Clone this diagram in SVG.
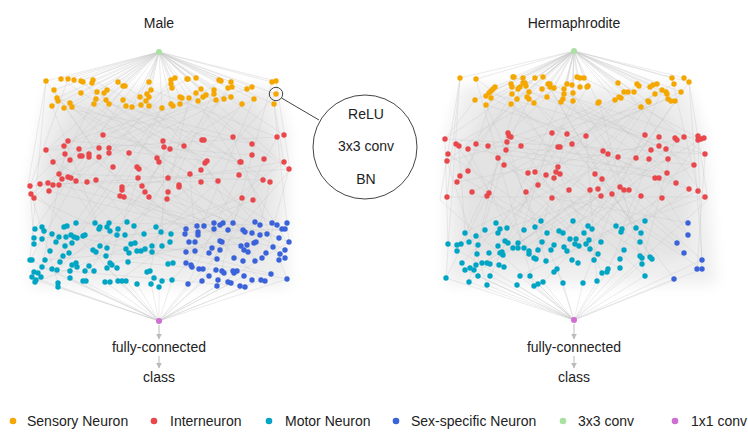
<svg xmlns="http://www.w3.org/2000/svg" width="748" height="433" viewBox="0 0 748 433">
<defs>
<style>
text{font-family:"Liberation Sans",Arial,sans-serif;font-size:14px;fill:#222}
.t{text-anchor:middle}
.e{fill:none;stroke:#c4c4c4;stroke-width:0.6;stroke-opacity:0.55}
.f{fill:none;stroke:#cdcdcd;stroke-width:0.6;stroke-opacity:0.7}
.o circle{fill:#f4a700}
.r circle{fill:#e8474c}
.c circle{fill:#00a5c4}
.b circle{fill:#3a62d9}
.hz1{fill:#eeeeee}
.hz2{fill:#e3e3e3}
.arr{stroke:#bbbbbb;stroke-width:1;fill:none}
.co{fill:none;stroke:#444;stroke-width:1}
</style>
<filter id="soft" x="-20%" y="-20%" width="140%" height="140%"><feGaussianBlur stdDeviation="7"/></filter>
<marker id="ah" viewBox="0 0 10 10" refX="9" refY="5" markerWidth="6" markerHeight="6" orient="auto"><path d="M0,0L10,5L0,10z" fill="#bbbbbb"/></marker>
</defs>
<rect width="748" height="433" fill="#ffffff"/>

<g id="connectors">
<g filter="url(#soft)">
<polygon class="hz1" points="48,88 274,88 288,135 288,286 32,286 30,182"/>
<polygon class="hz2" points="75,104 255,104 275,150 265,258 48,258 45,160"/>
<polygon class="hz1" points="462,86 688,86 704,135 716,284 446,284 446,140"/>
<polygon class="hz2" points="488,104 662,104 694,150 684,258 464,258 458,160"/>
</g>
<path class="f" d="M159 52L46 81M159 52L61 79M159 52L68 79M159 52L74 80M159 52L81 81M159 52L93 80M159 52L54 90M159 52L57 98M159 52L52 106M159 52L64 108M159 52L72 107M159 52L81 93M159 52L97 92M159 52L94 104M159 52L107 90M159 52L106 100M159 52L118 82M159 52L123 86M159 52L123 100M159 52L132 107M159 52L140 97M159 52L141 105M159 52L149 82M159 52L151 90M159 52L146 101M159 52L162 108M159 52L171 80M159 52L175 78M159 52L172 88M159 52L171 104M159 52L180 97M159 52L187 79M159 52L196 78M159 52L189 98M159 52L201 89M159 52L198 101M159 52L206 95M159 52L214 90M159 52L216 100M159 52L219 80M159 52L231 82M159 52L228 88M159 52L224 99M159 52L242 104M159 52L247 89M159 52L252 87M159 52L254 99M159 52L272 82M159 52L276 81M159 52L276 94M159 52L274 104M159 52L30 186M159 52L46 150M159 52L284 135M159 52L289 169"/>
<path class="f" d="M574 51L460 78M574 51L476 79M574 51L475 100M574 51L486 105M574 51L489 93M574 51L495 87M574 51L491 98M574 51L513 77M574 51L511 84M574 51L512 94M574 51L511 104M574 51L517 99M574 51L523 78M574 51L526 86M574 51L529 92M574 51L527 97M574 51L534 103M574 51L535 78M574 51L543 77M574 51L542 89M574 51L547 97M574 51L550 84M574 51L554 88M574 51L567 84M574 51L564 89M574 51L563 99M574 51L561 102M574 51L572 85M574 51L573 93M574 51L573 101M574 51L577 77M574 51L584 78M574 51L580 87M574 51L588 86M574 51L598 103M574 51L618 83M574 51L615 100M574 51L621 98M574 51L628 92M574 51L634 92M574 51L637 84M574 51L641 107M574 51L649 102M574 51L653 85M574 51L657 84M574 51L662 90M574 51L667 94M574 51L675 101M574 51L672 78M574 51L681 92M574 51L684 78M574 51L689 82M574 51L445 139M574 51L705 154M574 51L448 161"/>
<path class="e" d="M46 81L122 187M61 79L201 170M68 79L30 186M81 81L163 141M93 80L240 162M54 90L99 157M57 98L184 146M64 108L253 144M72 107L137 167M97 92L49 191M106 100L207 161M118 82L270 182M125 86L59 174M141 105L218 181M149 82L34 198M151 90L277 137M162 108L122 190M171 80L87 182M180 97L289 169M188 79L68 141M196 93L145 192M203 97L46 150M214 90L167 199M221 81L109 153M231 97L62 179M242 104L179 187M247 89L103 135M254 99L157 158M272 82L252 155M276 94L201 182M274 104L284 162M58 101L190 174M109 104L233 137M132 107L263 180M149 106L31 194M172 88L76 181M199 101L252 144M216 100L53 162M232 87L142 186M52 106L107 248M83 82L214 223M123 100L35 229M146 101L255 222M173 106L76 238M198 101L287 242M228 88L134 226M254 99L186 263M94 104L243 230M162 108L52 269M189 98L150 271M70 103L272 223M46 81L28 185M276 81L290 170M46 81L30 260M274 104L289 242M30 186L289 169M46 150L277 137M68 141L252 155M103 135L240 162M40 184L218 181M59 174L263 180M99 148L207 161M122 187L284 162M30 186L34 244M31 194L58 283M46 150L100 227M53 162L186 229M65 154L42 267M68 177L125 235M79 149L220 250M89 157L30 260M96 180L152 252M109 148L279 238M113 167L66 237M120 196L171 234M124 197L245 232M129 153L261 280M138 178L107 268M142 186L214 229M149 197L209 253M157 158L38 273M164 147L162 246M168 192L285 250M170 149L83 281M179 185L234 258M184 146L126 249M190 174L195 242M201 182L60 262M205 163L255 261M218 181L145 249M233 137L287 279M239 175L188 284M242 198L100 246M252 155L217 286M263 180L172 280M270 182L260 225M277 137L202 281M284 162L118 281M289 169L266 253M253 200L35 282M34 198L173 263M49 191L273 247M59 185L229 230M87 182L197 226M122 190L241 246M145 192L57 270M167 199L289 242M34 238L285 229M45 260L254 243M57 270L240 286M76 223L277 225M110 263L282 229M128 262L233 271M162 246L272 274M35 229L287 279M30 260L159 321M32 277L159 321M36 280L159 321M58 287L159 321M70 278L159 321M83 281L159 321M105 282L159 321M118 281L159 321M126 281L159 321M137 284L159 321M151 284L159 321M159 287L159 321M172 280L159 321M188 284L159 321M202 281L159 321M217 286L159 321M231 283L159 321M245 287L159 321M261 280L159 321M287 279L159 321M289 242L159 321M42 267L159 321M216 270L159 321M244 276L159 321M107 268L159 321M28 185L159 321M290 170L159 321"/>
<path class="e" d="M460 78L447 197M476 79L552 133M475 100L445 139M486 105L586 136M489 93L705 154M495 87L468 171M511 84L645 135M512 94L457 182M513 77L698 140M517 99L558 167M523 78L489 193M529 92L659 146M534 103L612 194M535 78L476 144M543 77L668 159M547 97L508 133M550 87L602 179M563 99L694 165M567 84L528 173M573 93L641 196M577 77L456 144M584 78L701 139M588 86L535 172M598 103L676 183M615 100L498 158M621 98L567 134M628 92L705 197M637 84L546 175M641 107L448 161M649 102L590 190M653 85L488 146M662 90L620 187M668 99L504 165M672 78L698 191M681 92L560 147M689 82L636 158M674 84L472 192M655 94L526 192M491 98L655 178M542 89L689 189M564 94L608 154M460 78L446 278M486 105L563 283M511 104L622 229M529 99L457 251M549 87L652 259M573 101L490 276M599 102L645 276M624 92L498 233M655 94L541 221M675 101L584 233M689 82L702 260M476 79L534 286M518 89L688 235M641 107L469 282M460 78L440 200M689 82L708 200M445 139L705 154M447 197L705 197M457 182L698 136M468 149L659 178M476 144L694 165M508 133L689 189M506 150L667 173M552 133L676 183M445 139L448 244M447 161L487 285M448 154L563 233M456 144L536 259M459 146L465 233M460 176L579 246M468 149L507 228M472 192L620 268M476 144L640 242M487 196L446 278M488 146L598 254M498 158L469 282M504 165L652 259M507 142L546 261M509 136L684 253M511 137L478 245M521 146L573 221M526 192L590 249M528 173L500 229M535 172L645 276M538 185L462 263M546 175L616 226M552 198L688 223M552 133L518 243M556 172L702 269M558 147L487 263M560 174L602 273M567 134L534 258M569 190L529 276M572 144L641 233M586 136L597 281M590 190L513 248M595 174L677 243M598 189L554 245M601 196L457 245M603 151L650 257M608 154L524 230M612 194L674 279M618 157L570 239M620 187L583 283M624 190L702 260M629 190L543 282M636 158L490 264M641 196L608 269M645 135L576 239M649 159L621 232M651 150L503 255M655 178L688 235M659 137L464 233M666 149L592 229M668 159L538 250M675 138L642 264M684 137L524 248M689 189L636 228M694 165L559 231M698 136L702 269M701 139L612 260M704 138L482 263M705 154L697 269M705 197L564 247M698 191L520 276M662 198L587 244M446 278L574 320M469 282L574 320M478 276L574 320M487 285L574 320M490 276L574 320M517 285L574 320M520 276L574 320M534 286L574 320M538 284L574 320M543 282L574 320M563 283L574 320M583 283L574 320M597 281L574 320M607 272L574 320M620 268L574 320M645 276L574 320M674 279L574 320M702 269L574 320M702 260L574 320M465 270L574 320M448 244L574 320M642 264L574 320M557 269L574 320M530 276L574 320M440 200L574 320M708 200L574 320"/>
<line class="arr" x1="159" y1="325" x2="159" y2="339" marker-end="url(#ah)"/>
<line class="arr" x1="159" y1="356" x2="159" y2="368" marker-end="url(#ah)"/>
<line class="arr" x1="574" y1="324" x2="574" y2="339" marker-end="url(#ah)"/>
<line class="arr" x1="574" y1="356" x2="574" y2="368" marker-end="url(#ah)"/>
<line class="co" x1="281.5" y1="98" x2="319" y2="120"/>
</g>

<g id="male-title"><text class="t" x="159" y="28">Male</text></g>
<g id="herm-title"><text class="t" x="574" y="28">Hermaphrodite</text></g>

<g id="male-conv3"><circle cx="159" cy="52" r="3" fill="#a9e2a0"/></g>
<g id="herm-conv3"><circle cx="574" cy="51" r="3" fill="#a9e2a0"/></g>
<g id="male-conv1"><circle cx="159" cy="321" r="3" fill="#cf6fd1"/></g>
<g id="herm-conv1"><circle cx="574" cy="320" r="3" fill="#cf6fd1"/></g>

<g id="male-sensory" class="o">
<circle cx="46" cy="81" r="2.7"/><circle cx="61" cy="79" r="2.7"/><circle cx="68" cy="79" r="2.7"/><circle cx="74" cy="80" r="2.7"/><circle cx="81" cy="81" r="2.7"/><circle cx="83" cy="82" r="2.7"/><circle cx="93" cy="80" r="2.7"/><circle cx="92" cy="83" r="2.7"/><circle cx="54" cy="90" r="2.7"/><circle cx="57" cy="98" r="2.7"/><circle cx="58" cy="101" r="2.7"/><circle cx="52" cy="106" r="2.7"/><circle cx="64" cy="108" r="2.7"/><circle cx="70" cy="103" r="2.7"/><circle cx="72" cy="107" r="2.7"/><circle cx="81" cy="93" r="2.7"/><circle cx="97" cy="92" r="2.7"/><circle cx="96" cy="99" r="2.7"/><circle cx="94" cy="104" r="2.7"/><circle cx="107" cy="90" r="2.7"/><circle cx="104" cy="93" r="2.7"/><circle cx="106" cy="100" r="2.7"/><circle cx="109" cy="104" r="2.7"/><circle cx="118" cy="82" r="2.7"/><circle cx="123" cy="86" r="2.7"/><circle cx="125" cy="86" r="2.7"/><circle cx="123" cy="100" r="2.7"/><circle cx="126" cy="106" r="2.7"/><circle cx="132" cy="107" r="2.7"/><circle cx="140" cy="97" r="2.7"/><circle cx="141" cy="105" r="2.7"/><circle cx="149" cy="82" r="2.7"/><circle cx="151" cy="90" r="2.7"/><circle cx="147" cy="94" r="2.7"/><circle cx="149" cy="97" r="2.7"/><circle cx="146" cy="101" r="2.7"/><circle cx="149" cy="106" r="2.7"/><circle cx="162" cy="108" r="2.7"/><circle cx="171" cy="80" r="2.7"/><circle cx="175" cy="78" r="2.7"/><circle cx="171" cy="84" r="2.7"/><circle cx="172" cy="88" r="2.7"/><circle cx="171" cy="104" r="2.7"/><circle cx="173" cy="106" r="2.7"/><circle cx="180" cy="97" r="2.7"/><circle cx="182" cy="98" r="2.7"/><circle cx="180" cy="104" r="2.7"/><circle cx="187" cy="79" r="2.7"/><circle cx="188" cy="79" r="2.7"/><circle cx="196" cy="78" r="2.7"/><circle cx="189" cy="98" r="2.7"/><circle cx="196" cy="93" r="2.7"/><circle cx="201" cy="89" r="2.7"/><circle cx="198" cy="101" r="2.7"/><circle cx="203" cy="97" r="2.7"/><circle cx="206" cy="95" r="2.7"/><circle cx="214" cy="90" r="2.7"/><circle cx="214" cy="94" r="2.7"/><circle cx="216" cy="100" r="2.7"/><circle cx="219" cy="80" r="2.7"/><circle cx="221" cy="81" r="2.7"/><circle cx="231" cy="82" r="2.7"/><circle cx="228" cy="88" r="2.7"/><circle cx="232" cy="87" r="2.7"/><circle cx="224" cy="99" r="2.7"/><circle cx="231" cy="97" r="2.7"/><circle cx="242" cy="104" r="2.7"/><circle cx="247" cy="89" r="2.7"/><circle cx="252" cy="87" r="2.7"/><circle cx="254" cy="99" r="2.7"/><circle cx="272" cy="82" r="2.7"/><circle cx="276" cy="81" r="2.7"/><circle cx="276" cy="94" r="2.7"/><circle cx="274" cy="104" r="2.7"/>
</g>

<g id="male-inter" class="r">
<circle cx="68" cy="141" r="2.7"/><circle cx="103" cy="135" r="2.7"/><circle cx="46" cy="150" r="2.7"/><circle cx="64" cy="146" r="2.7"/><circle cx="65" cy="154" r="2.7"/><circle cx="70" cy="160" r="2.7"/><circle cx="53" cy="162" r="2.7"/><circle cx="79" cy="149" r="2.7"/><circle cx="80" cy="156" r="2.7"/><circle cx="82" cy="156" r="2.7"/><circle cx="89" cy="154" r="2.7"/><circle cx="89" cy="157" r="2.7"/><circle cx="99" cy="148" r="2.7"/><circle cx="99" cy="157" r="2.7"/><circle cx="109" cy="148" r="2.7"/><circle cx="109" cy="153" r="2.7"/><circle cx="113" cy="167" r="2.7"/><circle cx="129" cy="153" r="2.7"/><circle cx="59" cy="174" r="2.7"/><circle cx="62" cy="179" r="2.7"/><circle cx="68" cy="177" r="2.7"/><circle cx="71" cy="178" r="2.7"/><circle cx="76" cy="181" r="2.7"/><circle cx="87" cy="182" r="2.7"/><circle cx="96" cy="180" r="2.7"/><circle cx="30" cy="186" r="2.7"/><circle cx="40" cy="184" r="2.7"/><circle cx="48" cy="183" r="2.7"/><circle cx="53" cy="185" r="2.7"/><circle cx="59" cy="185" r="2.7"/><circle cx="49" cy="191" r="2.7"/><circle cx="31" cy="194" r="2.7"/><circle cx="34" cy="198" r="2.7"/><circle cx="122" cy="187" r="2.7"/><circle cx="122" cy="190" r="2.7"/><circle cx="120" cy="196" r="2.7"/><circle cx="124" cy="197" r="2.7"/><circle cx="137" cy="167" r="2.7"/><circle cx="139" cy="169" r="2.7"/><circle cx="138" cy="178" r="2.7"/><circle cx="142" cy="186" r="2.7"/><circle cx="145" cy="192" r="2.7"/><circle cx="149" cy="197" r="2.7"/><circle cx="163" cy="141" r="2.7"/><circle cx="164" cy="147" r="2.7"/><circle cx="170" cy="149" r="2.7"/><circle cx="184" cy="146" r="2.7"/><circle cx="157" cy="158" r="2.7"/><circle cx="159" cy="162" r="2.7"/><circle cx="168" cy="178" r="2.7"/><circle cx="168" cy="192" r="2.7"/><circle cx="167" cy="199" r="2.7"/><circle cx="179" cy="185" r="2.7"/><circle cx="179" cy="187" r="2.7"/><circle cx="190" cy="174" r="2.7"/><circle cx="201" cy="170" r="2.7"/><circle cx="201" cy="182" r="2.7"/><circle cx="202" cy="140" r="2.7"/><circle cx="204" cy="140" r="2.7"/><circle cx="205" cy="163" r="2.7"/><circle cx="207" cy="161" r="2.7"/><circle cx="218" cy="181" r="2.7"/><circle cx="233" cy="137" r="2.7"/><circle cx="252" cy="144" r="2.7"/><circle cx="252" cy="155" r="2.7"/><circle cx="240" cy="162" r="2.7"/><circle cx="241" cy="162" r="2.7"/><circle cx="239" cy="175" r="2.7"/><circle cx="264" cy="159" r="2.7"/><circle cx="263" cy="180" r="2.7"/><circle cx="270" cy="182" r="2.7"/><circle cx="242" cy="198" r="2.7"/><circle cx="253" cy="200" r="2.7"/><circle cx="277" cy="137" r="2.7"/><circle cx="284" cy="135" r="2.7"/><circle cx="284" cy="162" r="2.7"/><circle cx="289" cy="169" r="2.7"/>
</g>

<g id="male-motor" class="c">
<circle cx="35" cy="229" r="2.7"/><circle cx="42" cy="227" r="2.7"/><circle cx="44" cy="231" r="2.7"/><circle cx="34" cy="238" r="2.7"/><circle cx="34" cy="244" r="2.7"/><circle cx="42" cy="239" r="2.7"/><circle cx="52" cy="234" r="2.7"/><circle cx="59" cy="237" r="2.7"/><circle cx="56" cy="242" r="2.7"/><circle cx="50" cy="251" r="2.7"/><circle cx="45" cy="260" r="2.7"/><circle cx="30" cy="260" r="2.7"/><circle cx="32" cy="260" r="2.7"/><circle cx="42" cy="267" r="2.7"/><circle cx="52" cy="269" r="2.7"/><circle cx="57" cy="270" r="2.7"/><circle cx="34" cy="272" r="2.7"/><circle cx="38" cy="273" r="2.7"/><circle cx="32" cy="277" r="2.7"/><circle cx="36" cy="280" r="2.7"/><circle cx="41" cy="277" r="2.7"/><circle cx="35" cy="282" r="2.7"/><circle cx="58" cy="283" r="2.7"/><circle cx="58" cy="287" r="2.7"/><circle cx="64" cy="227" r="2.7"/><circle cx="67" cy="226" r="2.7"/><circle cx="76" cy="223" r="2.7"/><circle cx="66" cy="237" r="2.7"/><circle cx="71" cy="235" r="2.7"/><circle cx="74" cy="237" r="2.7"/><circle cx="77" cy="238" r="2.7"/><circle cx="72" cy="243" r="2.7"/><circle cx="65" cy="246" r="2.7"/><circle cx="69" cy="253" r="2.7"/><circle cx="63" cy="256" r="2.7"/><circle cx="60" cy="262" r="2.7"/><circle cx="72" cy="265" r="2.7"/><circle cx="76" cy="263" r="2.7"/><circle cx="77" cy="267" r="2.7"/><circle cx="70" cy="271" r="2.7"/><circle cx="70" cy="278" r="2.7"/><circle cx="83" cy="236" r="2.7"/><circle cx="85" cy="235" r="2.7"/><circle cx="83" cy="281" r="2.7"/><circle cx="86" cy="281" r="2.7"/><circle cx="85" cy="271" r="2.7"/><circle cx="89" cy="266" r="2.7"/><circle cx="94" cy="271" r="2.7"/><circle cx="95" cy="223" r="2.7"/><circle cx="100" cy="227" r="2.7"/><circle cx="99" cy="229" r="2.7"/><circle cx="109" cy="223" r="2.7"/><circle cx="107" cy="227" r="2.7"/><circle cx="110" cy="231" r="2.7"/><circle cx="118" cy="229" r="2.7"/><circle cx="117" cy="235" r="2.7"/><circle cx="127" cy="222" r="2.7"/><circle cx="134" cy="226" r="2.7"/><circle cx="125" cy="235" r="2.7"/><circle cx="144" cy="234" r="2.7"/><circle cx="100" cy="246" r="2.7"/><circle cx="93" cy="250" r="2.7"/><circle cx="96" cy="252" r="2.7"/><circle cx="107" cy="248" r="2.7"/><circle cx="106" cy="256" r="2.7"/><circle cx="110" cy="263" r="2.7"/><circle cx="112" cy="265" r="2.7"/><circle cx="107" cy="268" r="2.7"/><circle cx="117" cy="268" r="2.7"/><circle cx="118" cy="281" r="2.7"/><circle cx="122" cy="281" r="2.7"/><circle cx="126" cy="281" r="2.7"/><circle cx="105" cy="282" r="2.7"/><circle cx="110" cy="282" r="2.7"/><circle cx="128" cy="262" r="2.7"/><circle cx="135" cy="243" r="2.7"/><circle cx="131" cy="244" r="2.7"/><circle cx="126" cy="249" r="2.7"/><circle cx="129" cy="253" r="2.7"/><circle cx="137" cy="251" r="2.7"/><circle cx="141" cy="251" r="2.7"/><circle cx="145" cy="249" r="2.7"/><circle cx="152" cy="246" r="2.7"/><circle cx="152" cy="252" r="2.7"/><circle cx="162" cy="246" r="2.7"/><circle cx="156" cy="227" r="2.7"/><circle cx="161" cy="232" r="2.7"/><circle cx="171" cy="234" r="2.7"/><circle cx="170" cy="242" r="2.7"/><circle cx="168" cy="264" r="2.7"/><circle cx="173" cy="263" r="2.7"/><circle cx="147" cy="272" r="2.7"/><circle cx="150" cy="271" r="2.7"/><circle cx="154" cy="278" r="2.7"/><circle cx="162" cy="281" r="2.7"/><circle cx="172" cy="280" r="2.7"/><circle cx="151" cy="284" r="2.7"/><circle cx="159" cy="287" r="2.7"/><circle cx="137" cy="284" r="2.7"/>
</g>

<g id="male-sex" class="b">
<circle cx="186" cy="229" r="2.7"/><circle cx="185" cy="234" r="2.7"/><circle cx="197" cy="226" r="2.7"/><circle cx="198" cy="232" r="2.7"/><circle cx="198" cy="235" r="2.7"/><circle cx="204" cy="226" r="2.7"/><circle cx="214" cy="223" r="2.7"/><circle cx="214" cy="229" r="2.7"/><circle cx="220" cy="225" r="2.7"/><circle cx="223" cy="223" r="2.7"/><circle cx="233" cy="223" r="2.7"/><circle cx="228" cy="230" r="2.7"/><circle cx="243" cy="230" r="2.7"/><circle cx="245" cy="232" r="2.7"/><circle cx="252" cy="233" r="2.7"/><circle cx="255" cy="222" r="2.7"/><circle cx="260" cy="225" r="2.7"/><circle cx="272" cy="223" r="2.7"/><circle cx="277" cy="225" r="2.7"/><circle cx="287" cy="223" r="2.7"/><circle cx="282" cy="229" r="2.7"/><circle cx="285" cy="229" r="2.7"/><circle cx="260" cy="235" r="2.7"/><circle cx="267" cy="234" r="2.7"/><circle cx="279" cy="238" r="2.7"/><circle cx="289" cy="242" r="2.7"/><circle cx="189" cy="242" r="2.7"/><circle cx="195" cy="242" r="2.7"/><circle cx="220" cy="241" r="2.7"/><circle cx="222" cy="242" r="2.7"/><circle cx="212" cy="248" r="2.7"/><circle cx="220" cy="250" r="2.7"/><circle cx="209" cy="253" r="2.7"/><circle cx="195" cy="251" r="2.7"/><circle cx="186" cy="252" r="2.7"/><circle cx="241" cy="246" r="2.7"/><circle cx="247" cy="245" r="2.7"/><circle cx="244" cy="250" r="2.7"/><circle cx="248" cy="252" r="2.7"/><circle cx="254" cy="243" r="2.7"/><circle cx="256" cy="242" r="2.7"/><circle cx="273" cy="247" r="2.7"/><circle cx="285" cy="250" r="2.7"/><circle cx="280" cy="254" r="2.7"/><circle cx="285" cy="258" r="2.7"/><circle cx="279" cy="260" r="2.7"/><circle cx="266" cy="253" r="2.7"/><circle cx="262" cy="258" r="2.7"/><circle cx="255" cy="261" r="2.7"/><circle cx="234" cy="258" r="2.7"/><circle cx="243" cy="261" r="2.7"/><circle cx="217" cy="259" r="2.7"/><circle cx="186" cy="263" r="2.7"/><circle cx="191" cy="265" r="2.7"/><circle cx="192" cy="267" r="2.7"/><circle cx="199" cy="269" r="2.7"/><circle cx="203" cy="269" r="2.7"/><circle cx="209" cy="276" r="2.7"/><circle cx="216" cy="270" r="2.7"/><circle cx="222" cy="271" r="2.7"/><circle cx="224" cy="273" r="2.7"/><circle cx="233" cy="271" r="2.7"/><circle cx="237" cy="271" r="2.7"/><circle cx="234" cy="273" r="2.7"/><circle cx="244" cy="276" r="2.7"/><circle cx="228" cy="282" r="2.7"/><circle cx="231" cy="283" r="2.7"/><circle cx="218" cy="280" r="2.7"/><circle cx="217" cy="286" r="2.7"/><circle cx="240" cy="286" r="2.7"/><circle cx="245" cy="287" r="2.7"/><circle cx="252" cy="280" r="2.7"/><circle cx="261" cy="280" r="2.7"/><circle cx="265" cy="281" r="2.7"/><circle cx="271" cy="274" r="2.7"/><circle cx="287" cy="279" r="2.7"/><circle cx="202" cy="281" r="2.7"/><circle cx="188" cy="284" r="2.7"/>
</g>

<g id="herm-sensory" class="o">
<circle cx="460" cy="78" r="2.7"/><circle cx="476" cy="79" r="2.7"/><circle cx="475" cy="100" r="2.7"/><circle cx="486" cy="105" r="2.7"/><circle cx="486" cy="96" r="2.7"/><circle cx="489" cy="93" r="2.7"/><circle cx="491" cy="91" r="2.7"/><circle cx="493" cy="89" r="2.7"/><circle cx="495" cy="87" r="2.7"/><circle cx="491" cy="98" r="2.7"/><circle cx="513" cy="77" r="2.7"/><circle cx="514" cy="77" r="2.7"/><circle cx="511" cy="84" r="2.7"/><circle cx="512" cy="87" r="2.7"/><circle cx="512" cy="94" r="2.7"/><circle cx="511" cy="104" r="2.7"/><circle cx="517" cy="99" r="2.7"/><circle cx="518" cy="89" r="2.7"/><circle cx="520" cy="87" r="2.7"/><circle cx="523" cy="78" r="2.7"/><circle cx="523" cy="83" r="2.7"/><circle cx="525" cy="83" r="2.7"/><circle cx="526" cy="86" r="2.7"/><circle cx="529" cy="92" r="2.7"/><circle cx="527" cy="97" r="2.7"/><circle cx="529" cy="99" r="2.7"/><circle cx="534" cy="103" r="2.7"/><circle cx="535" cy="78" r="2.7"/><circle cx="543" cy="77" r="2.7"/><circle cx="542" cy="89" r="2.7"/><circle cx="547" cy="97" r="2.7"/><circle cx="548" cy="84" r="2.7"/><circle cx="550" cy="84" r="2.7"/><circle cx="550" cy="87" r="2.7"/><circle cx="554" cy="88" r="2.7"/><circle cx="567" cy="84" r="2.7"/><circle cx="564" cy="89" r="2.7"/><circle cx="564" cy="94" r="2.7"/><circle cx="563" cy="99" r="2.7"/><circle cx="561" cy="102" r="2.7"/><circle cx="572" cy="85" r="2.7"/><circle cx="573" cy="93" r="2.7"/><circle cx="573" cy="101" r="2.7"/><circle cx="577" cy="77" r="2.7"/><circle cx="580" cy="78" r="2.7"/><circle cx="584" cy="78" r="2.7"/><circle cx="580" cy="87" r="2.7"/><circle cx="587" cy="87" r="2.7"/><circle cx="588" cy="86" r="2.7"/><circle cx="598" cy="103" r="2.7"/><circle cx="599" cy="102" r="2.7"/><circle cx="618" cy="83" r="2.7"/><circle cx="615" cy="100" r="2.7"/><circle cx="619" cy="97" r="2.7"/><circle cx="621" cy="98" r="2.7"/><circle cx="624" cy="92" r="2.7"/><circle cx="628" cy="92" r="2.7"/><circle cx="634" cy="92" r="2.7"/><circle cx="637" cy="84" r="2.7"/><circle cx="639" cy="86" r="2.7"/><circle cx="641" cy="107" r="2.7"/><circle cx="648" cy="101" r="2.7"/><circle cx="649" cy="102" r="2.7"/><circle cx="650" cy="87" r="2.7"/><circle cx="653" cy="85" r="2.7"/><circle cx="657" cy="84" r="2.7"/><circle cx="655" cy="94" r="2.7"/><circle cx="662" cy="90" r="2.7"/><circle cx="666" cy="92" r="2.7"/><circle cx="667" cy="94" r="2.7"/><circle cx="668" cy="99" r="2.7"/><circle cx="671" cy="101" r="2.7"/><circle cx="675" cy="101" r="2.7"/><circle cx="672" cy="78" r="2.7"/><circle cx="674" cy="84" r="2.7"/><circle cx="681" cy="92" r="2.7"/><circle cx="684" cy="78" r="2.7"/><circle cx="689" cy="82" r="2.7"/>
</g>

<g id="herm-inter" class="r">
<circle cx="445" cy="139" r="2.7"/><circle cx="456" cy="144" r="2.7"/><circle cx="459" cy="146" r="2.7"/><circle cx="448" cy="154" r="2.7"/><circle cx="447" cy="161" r="2.7"/><circle cx="468" cy="149" r="2.7"/><circle cx="476" cy="144" r="2.7"/><circle cx="488" cy="146" r="2.7"/><circle cx="508" cy="133" r="2.7"/><circle cx="509" cy="136" r="2.7"/><circle cx="511" cy="137" r="2.7"/><circle cx="507" cy="142" r="2.7"/><circle cx="506" cy="150" r="2.7"/><circle cx="498" cy="158" r="2.7"/><circle cx="504" cy="165" r="2.7"/><circle cx="521" cy="146" r="2.7"/><circle cx="468" cy="171" r="2.7"/><circle cx="460" cy="176" r="2.7"/><circle cx="457" cy="182" r="2.7"/><circle cx="472" cy="192" r="2.7"/><circle cx="489" cy="193" r="2.7"/><circle cx="487" cy="196" r="2.7"/><circle cx="447" cy="197" r="2.7"/><circle cx="552" cy="133" r="2.7"/><circle cx="567" cy="134" r="2.7"/><circle cx="586" cy="136" r="2.7"/><circle cx="558" cy="147" r="2.7"/><circle cx="560" cy="147" r="2.7"/><circle cx="572" cy="144" r="2.7"/><circle cx="558" cy="167" r="2.7"/><circle cx="556" cy="172" r="2.7"/><circle cx="560" cy="174" r="2.7"/><circle cx="546" cy="175" r="2.7"/><circle cx="554" cy="178" r="2.7"/><circle cx="535" cy="172" r="2.7"/><circle cx="528" cy="173" r="2.7"/><circle cx="538" cy="185" r="2.7"/><circle cx="526" cy="192" r="2.7"/><circle cx="552" cy="198" r="2.7"/><circle cx="569" cy="190" r="2.7"/><circle cx="590" cy="190" r="2.7"/><circle cx="598" cy="189" r="2.7"/><circle cx="601" cy="196" r="2.7"/><circle cx="612" cy="194" r="2.7"/><circle cx="620" cy="187" r="2.7"/><circle cx="624" cy="190" r="2.7"/><circle cx="629" cy="190" r="2.7"/><circle cx="641" cy="196" r="2.7"/><circle cx="595" cy="174" r="2.7"/><circle cx="602" cy="179" r="2.7"/><circle cx="603" cy="151" r="2.7"/><circle cx="608" cy="154" r="2.7"/><circle cx="618" cy="157" r="2.7"/><circle cx="636" cy="158" r="2.7"/><circle cx="645" cy="135" r="2.7"/><circle cx="649" cy="159" r="2.7"/><circle cx="651" cy="150" r="2.7"/><circle cx="659" cy="137" r="2.7"/><circle cx="659" cy="146" r="2.7"/><circle cx="666" cy="149" r="2.7"/><circle cx="668" cy="159" r="2.7"/><circle cx="675" cy="138" r="2.7"/><circle cx="677" cy="140" r="2.7"/><circle cx="684" cy="137" r="2.7"/><circle cx="698" cy="136" r="2.7"/><circle cx="698" cy="140" r="2.7"/><circle cx="701" cy="139" r="2.7"/><circle cx="704" cy="138" r="2.7"/><circle cx="705" cy="154" r="2.7"/><circle cx="694" cy="165" r="2.7"/><circle cx="667" cy="173" r="2.7"/><circle cx="655" cy="178" r="2.7"/><circle cx="659" cy="178" r="2.7"/><circle cx="676" cy="183" r="2.7"/><circle cx="689" cy="189" r="2.7"/><circle cx="698" cy="191" r="2.7"/><circle cx="705" cy="197" r="2.7"/><circle cx="662" cy="198" r="2.7"/>
</g>

<g id="herm-motor" class="c">
<circle cx="446" cy="278" r="2.7"/><circle cx="448" cy="244" r="2.7"/><circle cx="457" cy="245" r="2.7"/><circle cx="461" cy="244" r="2.7"/><circle cx="457" cy="251" r="2.7"/><circle cx="465" cy="233" r="2.7"/><circle cx="469" cy="242" r="2.7"/><circle cx="476" cy="236" r="2.7"/><circle cx="478" cy="245" r="2.7"/><circle cx="477" cy="254" r="2.7"/><circle cx="462" cy="263" r="2.7"/><circle cx="465" cy="270" r="2.7"/><circle cx="470" cy="268" r="2.7"/><circle cx="474" cy="270" r="2.7"/><circle cx="476" cy="265" r="2.7"/><circle cx="478" cy="276" r="2.7"/><circle cx="482" cy="263" r="2.7"/><circle cx="487" cy="263" r="2.7"/><circle cx="490" cy="264" r="2.7"/><circle cx="490" cy="276" r="2.7"/><circle cx="469" cy="282" r="2.7"/><circle cx="487" cy="285" r="2.7"/><circle cx="485" cy="230" r="2.7"/><circle cx="489" cy="253" r="2.7"/><circle cx="496" cy="223" r="2.7"/><circle cx="498" cy="233" r="2.7"/><circle cx="500" cy="229" r="2.7"/><circle cx="507" cy="228" r="2.7"/><circle cx="498" cy="246" r="2.7"/><circle cx="502" cy="252" r="2.7"/><circle cx="503" cy="255" r="2.7"/><circle cx="500" cy="253" r="2.7"/><circle cx="499" cy="265" r="2.7"/><circle cx="504" cy="267" r="2.7"/><circle cx="505" cy="241" r="2.7"/><circle cx="508" cy="243" r="2.7"/><circle cx="513" cy="248" r="2.7"/><circle cx="518" cy="243" r="2.7"/><circle cx="518" cy="248" r="2.7"/><circle cx="524" cy="230" r="2.7"/><circle cx="524" cy="248" r="2.7"/><circle cx="529" cy="251" r="2.7"/><circle cx="529" cy="254" r="2.7"/><circle cx="534" cy="258" r="2.7"/><circle cx="536" cy="259" r="2.7"/><circle cx="520" cy="276" r="2.7"/><circle cx="517" cy="285" r="2.7"/><circle cx="530" cy="276" r="2.7"/><circle cx="534" cy="286" r="2.7"/><circle cx="538" cy="284" r="2.7"/><circle cx="543" cy="282" r="2.7"/><circle cx="535" cy="227" r="2.7"/><circle cx="541" cy="221" r="2.7"/><circle cx="547" cy="233" r="2.7"/><circle cx="542" cy="242" r="2.7"/><circle cx="538" cy="250" r="2.7"/><circle cx="546" cy="261" r="2.7"/><circle cx="551" cy="250" r="2.7"/><circle cx="554" cy="245" r="2.7"/><circle cx="559" cy="231" r="2.7"/><circle cx="563" cy="233" r="2.7"/><circle cx="564" cy="247" r="2.7"/><circle cx="567" cy="251" r="2.7"/><circle cx="557" cy="269" r="2.7"/><circle cx="554" cy="272" r="2.7"/><circle cx="563" cy="283" r="2.7"/><circle cx="570" cy="239" r="2.7"/><circle cx="573" cy="221" r="2.7"/><circle cx="572" cy="260" r="2.7"/><circle cx="578" cy="263" r="2.7"/><circle cx="576" cy="239" r="2.7"/><circle cx="575" cy="244" r="2.7"/><circle cx="579" cy="246" r="2.7"/><circle cx="584" cy="233" r="2.7"/><circle cx="588" cy="226" r="2.7"/><circle cx="592" cy="229" r="2.7"/><circle cx="586" cy="244" r="2.7"/><circle cx="589" cy="240" r="2.7"/><circle cx="590" cy="249" r="2.7"/><circle cx="583" cy="283" r="2.7"/><circle cx="598" cy="254" r="2.7"/><circle cx="594" cy="260" r="2.7"/><circle cx="601" cy="242" r="2.7"/><circle cx="597" cy="281" r="2.7"/><circle cx="602" cy="273" r="2.7"/><circle cx="607" cy="272" r="2.7"/><circle cx="608" cy="269" r="2.7"/><circle cx="616" cy="226" r="2.7"/><circle cx="622" cy="229" r="2.7"/><circle cx="621" cy="232" r="2.7"/><circle cx="624" cy="250" r="2.7"/><circle cx="620" cy="259" r="2.7"/><circle cx="620" cy="268" r="2.7"/><circle cx="636" cy="228" r="2.7"/><circle cx="641" cy="233" r="2.7"/><circle cx="645" cy="221" r="2.7"/><circle cx="640" cy="242" r="2.7"/><circle cx="640" cy="256" r="2.7"/><circle cx="642" cy="258" r="2.7"/><circle cx="650" cy="257" r="2.7"/><circle cx="652" cy="259" r="2.7"/><circle cx="642" cy="264" r="2.7"/><circle cx="645" cy="276" r="2.7"/>
</g>

<g id="herm-sex" class="b">
<circle cx="688" cy="223" r="2.7"/><circle cx="688" cy="235" r="2.7"/><circle cx="677" cy="243" r="2.7"/><circle cx="684" cy="253" r="2.7"/><circle cx="702" cy="260" r="2.7"/><circle cx="697" cy="269" r="2.7"/><circle cx="702" cy="269" r="2.7"/><circle cx="674" cy="279" r="2.7"/>
</g>

<g id="callout">
<circle class="co" cx="276" cy="94" r="6.7"/>
<circle cx="365" cy="147" r="52" fill="#ffffff" stroke="#444" stroke-width="1"/>
<text class="t" x="366" y="119">ReLU</text>
<text class="t" x="366" y="151">3x3 conv</text>
<text class="t" x="366" y="184">BN</text>
</g>

<g id="male-fc"><text class="t" x="159" y="352">fully-connected</text></g>
<g id="male-class"><text class="t" x="159" y="382">class</text></g>
<g id="herm-fc"><text class="t" x="574" y="352">fully-connected</text></g>
<g id="herm-class"><text class="t" x="574" y="382">class</text></g>

<g id="legend">
<circle cx="13" cy="421" r="3.3" fill="#f4a700"/><text x="27" y="426">Sensory Neuron</text>
<circle cx="154" cy="421" r="3.3" fill="#e8474c"/><text x="170" y="426">Interneuron</text>
<circle cx="269" cy="421" r="3.3" fill="#00a5c4"/><text x="285" y="426">Motor Neuron</text>
<circle cx="396" cy="421" r="3.3" fill="#3a62d9"/><text x="411" y="426">Sex-specific Neuron</text>
<circle cx="563" cy="421" r="3.3" fill="#a9e2a0"/><text x="578" y="426">3x3 conv</text>
<circle cx="675" cy="421" r="3.3" fill="#cf6fd1"/><text x="691" y="426">1x1 conv</text>
</g>
</svg>
